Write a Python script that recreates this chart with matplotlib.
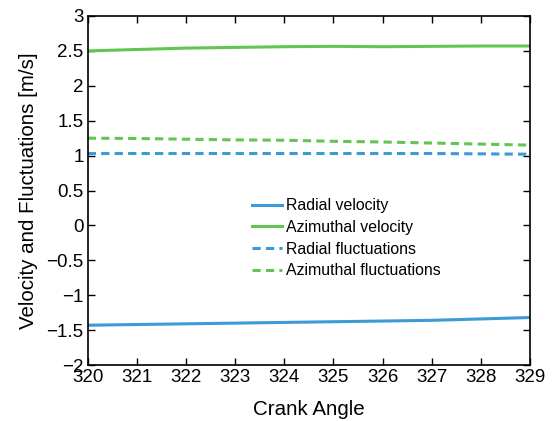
import matplotlib
matplotlib.use("Agg")
import matplotlib.pyplot as plt

plt.rcParams['font.family'] = ['Liberation Sans', 'DejaVu Sans']
plt.rcParams['axes.unicode_minus'] = True

crank_angle = [320, 321, 322, 323, 324, 325, 326, 327, 328, 329]
radial_velocity = [-1.43, -1.42, -1.41, -1.40, -1.39, -1.38, -1.37, -1.36, -1.34, -1.32]
azimuthal_velocity = [2.50, 2.52, 2.54, 2.55, 2.56, 2.565, 2.56, 2.565, 2.57, 2.57]
radial_fluct = [1.03, 1.03, 1.03, 1.03, 1.03, 1.03, 1.03, 1.03, 1.025, 1.02]
azimuthal_fluct = [1.25, 1.245, 1.235, 1.225, 1.22, 1.205, 1.195, 1.18, 1.165, 1.15]

blue = '#3b9bd6'
green = '#62c552'

fig = plt.figure(figsize=(5.52, 4.21), dpi=100)
ax = fig.add_axes([0.159, 0.133, 0.801, 0.829])

dash = (0, (2.7, 1.7))
ax.plot(crank_angle, radial_velocity, color=blue, lw=2.2, label='Radial velocity')
ax.plot(crank_angle, azimuthal_velocity, color=green, lw=2.2, label='Azimuthal velocity')
ax.plot(crank_angle, radial_fluct, color=blue, lw=2.2, ls=dash, label='Radial fluctuations')
ax.plot(crank_angle, azimuthal_fluct, color=green, lw=2.2, ls=dash, label='Azimuthal fluctuations')

ax.set_xlim(320, 329)
ax.set_ylim(-2, 3)
ax.set_xticks(crank_angle)
ax.set_yticks([-2, -1.5, -1, -0.5, 0, 0.5, 1, 1.5, 2, 2.5, 3])
ax.set_yticklabels(['\u22122', '\u22121.5', '\u22121', '\u22120.5', '0', '0.5', '1', '1.5', '2', '2.5', '3'])
ax.tick_params(direction='in', top=True, right=True, labelsize=13.5, length=5, width=1)
ax.tick_params(axis='x', pad=3)
ax.tick_params(axis='y', pad=3)
for s in ax.spines.values():
    s.set_linewidth(1.2)

ax.set_xlabel('Crank Angle', fontsize=14.8, labelpad=10)
ax.set_ylabel('Velocity and Fluctuations [m/s]', fontsize=14.8, labelpad=6)

leg = ax.legend(loc='center left', bbox_to_anchor=(0.34, 0.363), frameon=False,
                fontsize=11.4, handlelength=1.9, handletextpad=0.2, labelspacing=0.42)

fig.savefig('out.png', dpi=100)
